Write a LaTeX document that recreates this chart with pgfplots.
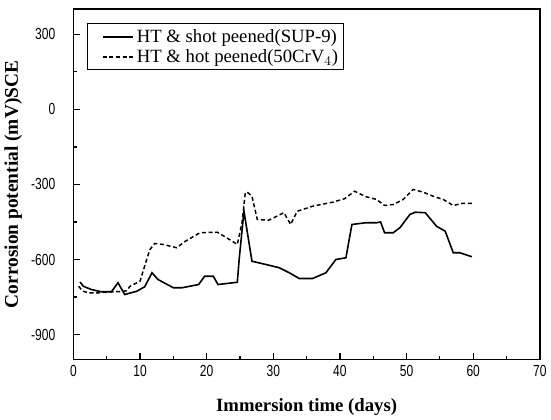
\documentclass[border=0pt]{standalone}
\usepackage{fontspec}
\setmainfont{Liberation Serif}
\newfontfamily\tickfont[FakeStretch=0.75]{Liberation Sans}
\usepackage{pgfplots}
\pgfplotsset{compat=1.18}

\begin{document}
\begin{tikzpicture}
\begin{axis}[
width=349pt,height=262pt,scale only axis,
xmin=0,xmax=70,ymin=-1000,ymax=400,
xtick={0,10,...,70},ytick={-900,-600,-300,0,300},
minor x tick num=1,minor y tick num=1,
tick pos=left,tick align=inside,
major tick length=5pt,minor tick length=3pt,
axis line style={line width=1.3pt},
every tick/.style={line width=0.9pt,black},
tick label style={font=\tickfont\fontsize{12}{14}\selectfont},
yticklabel style={xshift=-10pt},
xticklabel style={yshift=-1pt},
/pgf/number format/assume math mode=true,
xlabel={\bfseries Immersion time (days)},
ylabel={\bfseries Corrosion potential (mV)SCE},
xlabel style={font=\fontsize{14}{16}\selectfont,yshift=-9pt},
ylabel style={font=\fontsize{14.5}{16}\selectfont,yshift=0pt},
legend style={at={(0.03,0.96)},anchor=north west,draw=black,line width=0.8pt,
  font=\fontsize{14}{14}\selectfont,row sep=0pt,inner sep=2pt},
legend image code/.code={\path[draw=none] (0pt,0pt) (32pt,0pt);\draw[#1] (9pt,0pt) -- (32pt,0pt);},
legend cell align=left,
]
\addplot[black,line width=1.2pt] coordinates {
(1,-690) (1.5,-707) (2.7,-720) (4.2,-729) (5.7,-729) (6.7,-693) (7.7,-740)
(9.5,-727) (10.7,-709) (11.8,-653) (12.7,-680) (15,-713) (16.3,-713)
(18.8,-700) (19.7,-667) (21,-667) (21.7,-700) (24.6,-691) (24.9,-593)
(25.6,-407) (26.8,-607) (28.9,-620) (30.9,-633) (32.4,-653) (33.9,-676)
(35.9,-676) (37.9,-653) (39.4,-600) (40.9,-593) (41.8,-460) (43.9,-453)
(45.5,-453) (46.1,-450) (46.7,-493) (48,-493) (49,-473) (50.5,-420)
(51.3,-411) (52.8,-413) (54.5,-467) (55.8,-487) (57,-573) (58,-573) (59.8,-589)
};
\addlegendentry{HT \& shot peened(SUP-9)}
\addplot[black,line width=1.1pt,dash pattern=on 3pt off 2pt] coordinates {
(0.8,-707) (1.4,-727) (2.4,-733) (3.9,-733) (5.5,-730) (7,-728) (8,-725)
(8.5,-707) (10,-687) (11,-600) (11.5,-560) (12.2,-536) (13.5,-540)
(15.5,-553) (16.8,-527) (19,-493) (21.6,-491) (23,-513) (24.6,-540)
(25.3,-453) (25.8,-333) (26.1,-331) (26.8,-347) (27.6,-440) (29.3,-443)
(31.6,-413) (32.6,-460) (33.6,-407) (35.9,-387) (38.9,-371) (40.7,-357)
(42.2,-327) (43.9,-349) (45.5,-360) (46.7,-384) (48,-380) (49.5,-360)
(51,-320) (52.5,-331) (54,-347) (55.5,-360) (57,-384) (58.3,-376) (59.8,-376)
};
\addlegendentry{HT \& hot peened(50CrV$_4$)}
\end{axis}
\path (current axis.north) ++(0,7pt);
\end{tikzpicture}
\end{document}
